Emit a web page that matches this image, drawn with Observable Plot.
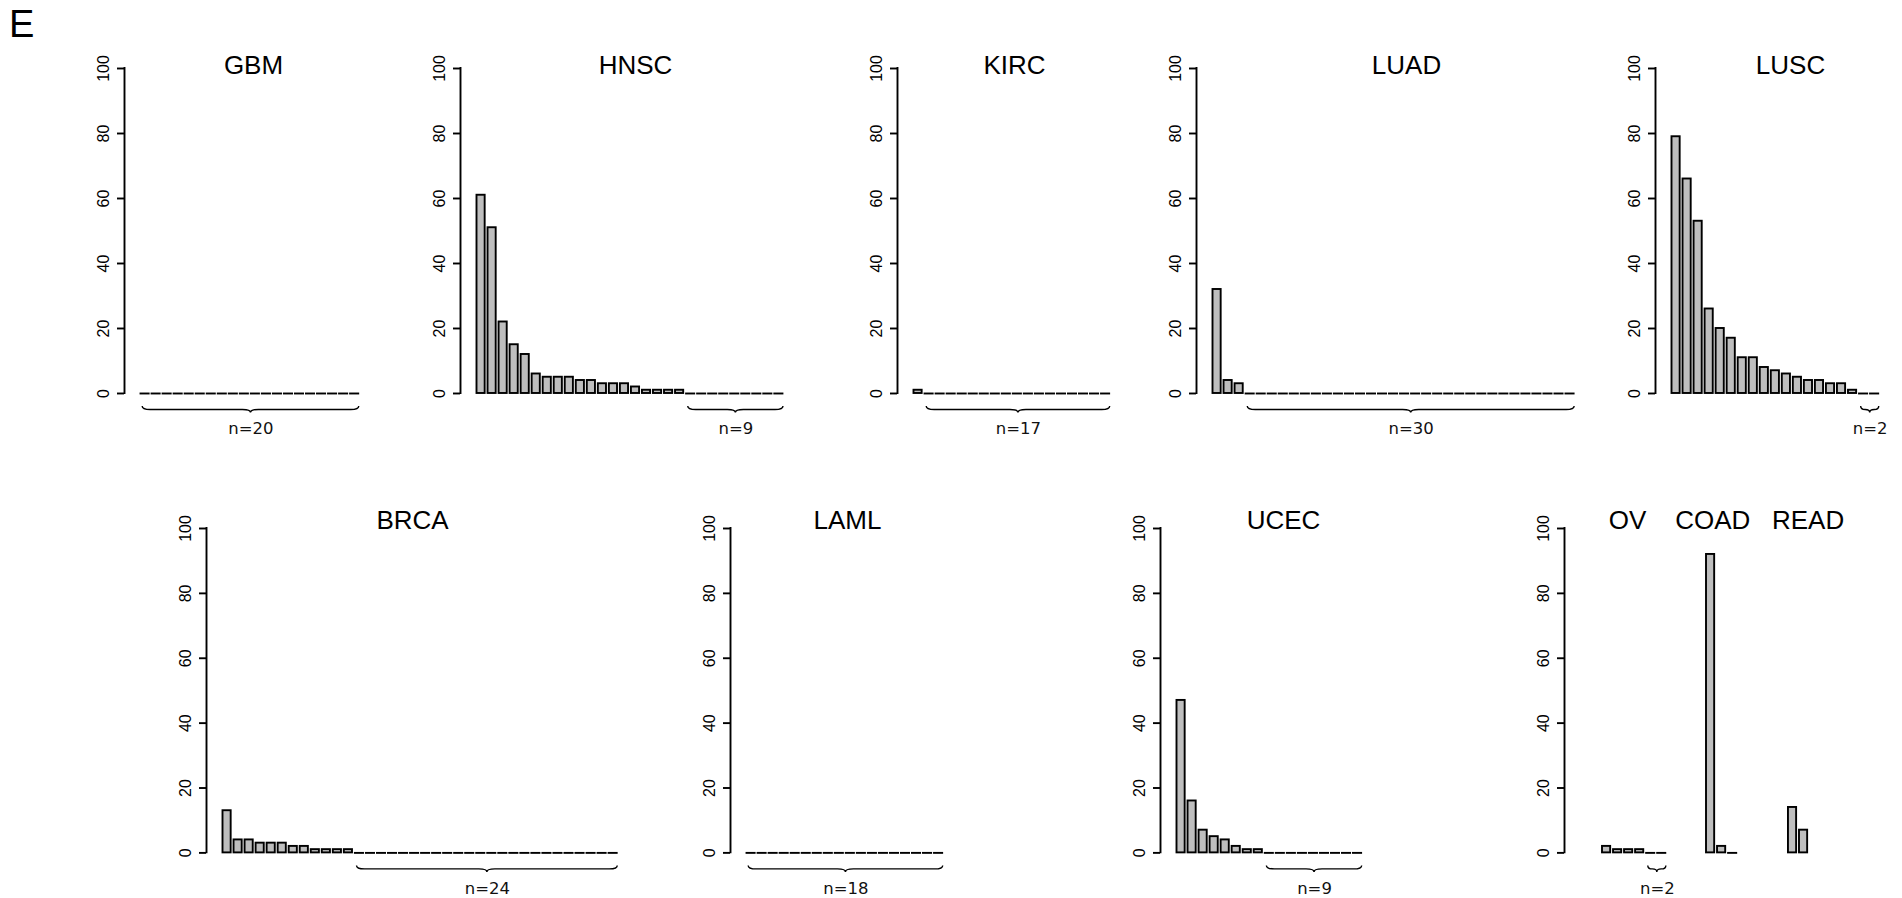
<!DOCTYPE html>
<html><head><meta charset="utf-8">
<script src="https://cdn.jsdelivr.net/npm/d3@7"></script>
<script src="https://cdn.jsdelivr.net/npm/@observablehq/plot@0.6"></script>
<style>
html,body{margin:0;padding:0;background:#fff;}
#fig{position:relative;width:1902px;height:898px;overflow:hidden;background:#fff;font-family:"Liberation Sans",Arial,sans-serif;}
#fig svg{position:absolute;overflow:visible;}
#panelE{position:absolute;left:9px;top:5px;font-size:38px;line-height:1;color:#000;}
</style></head><body>
<div id="fig"><div id="panelE">E</div></div>
<script>
// ---- data ----
const yTicks = [0, 20, 40, 60, 80, 100];
const GBM  = [0,0,0,0,0,0,0,0,0,0,0,0,0,0,0,0,0,0,0,0];
const HNSC = [61,51,22,15,12,6,5,5,5,4,4,3,3,3,2,1,1,1,1,0,0,0,0,0,0,0,0,0];
const KIRC = [1,0,0,0,0,0,0,0,0,0,0,0,0,0,0,0,0,0];
const LUAD = [32,4,3,0,0,0,0,0,0,0,0,0,0,0,0,0,0,0,0,0,0,0,0,0,0,0,0,0,0,0,0,0,0];
const LUSC = [79,66,53,26,20,17,11,11,8,7,6,5,4,4,3,3,1,0,0];
const BRCA = [13,4,4,3,3,3,2,2,1,1,1,1,0,0,0,0,0,0,0,0,0,0,0,0,0,0,0,0,0,0,0,0,0,0,0,0];
const LAML = [0,0,0,0,0,0,0,0,0,0,0,0,0,0,0,0,0,0];
const UCEC = [47,16,7,5,4,2,1,1,0,0,0,0,0,0,0,0,0];
const OV   = [2,1,1,1,0,0];
const COAD = [92,2,0];
const READ = [14,7];
const bracedGroups = ["GBM","HNSC","KIRC","LUAD","LUSC","BRCA","LAML","UCEC","OV"];
const seriesByName = {GBM, HNSC, KIRC, LUAD, LUSC, BRCA, LAML, UCEC, OV, COAD, READ};

// ---- layout ----
const SLOT = 11.03;   // px per bar slot
const BAR = 0.74;     // bar width in slots
const LW = 1.9;       // line width
const rows = [
  {y100: 68.3, y0: 393.3, titleGap: 5},
  {y100: 528.3, y0: 852.7, titleGap: 10}
];
const layout = [
  {groups: ["GBM"],  row: 0, axisX: 124,  titleX: 253,  lead: 16.5},
  {groups: ["HNSC"], row: 0, axisX: 460,  titleX: 635,  lead: 16.5},
  {groups: ["KIRC"], row: 0, axisX: 897,  titleX: 1014, lead: 16.5},
  {groups: ["LUAD"], row: 0, axisX: 1196, titleX: 1406, lead: 16.5},
  {groups: ["LUSC"], row: 0, axisX: 1655, titleX: 1790, lead: 16.5},
  {groups: ["BRCA"], row: 1, axisX: 206,  titleX: 412,  lead: 16.5},
  {groups: ["LAML"], row: 1, axisX: 730,  titleX: 847,  lead: 16.5},
  {groups: ["UCEC"], row: 1, axisX: 1160, titleX: 1283, lead: 16.5},
  {groups: ["OV","COAD","READ"], starts: [0, 9.43, 16.86], row: 1, axisX: 1564, titleX: 1726, lead: 38,
   title: "OV\u00a0\u00a0\u00a0\u00a0COAD\u00a0\u00a0\u00a0READ"}
];

function braceMark(braces) {
  return (index, scales) => {
    const {x, y} = scales;
    const g = d3.create("svg:g").attr("fill", "none").attr("stroke", "black").attr("stroke-width", 1.4);
    for (const b of braces) {
      const a = x(b.x1), c = x(b.x2), m = (a + c) / 2, yb = y(0);
      const yt = yb + 13, yl = yb + 16.5, yp = yb + 19.5;
      const r = Math.min(8, (c - a) / 4);
      g.append("path").attr("d",
        `M${a},${yt} Q${a},${yl} ${a + r},${yl} L${m - r},${yl} Q${m},${yl} ${m},${yp} ` +
        `Q${m},${yl} ${m + r},${yl} L${c - r},${yl} Q${c},${yl} ${c},${yt}`);
    }
    return g.node();
  };
}

const fig = document.getElementById("fig");
const mL = 40, mR = 12, mT = 50, mB = 48;

for (const p of layout) {
  const row = rows[p.row];
  const innerH = row.y0 - row.y100;
  const bars = [];
  const braces = [];
  p.groups.forEach((g, gi) => {
    const start = p.starts ? p.starts[gi] : 0;
    const vals = seriesByName[g];
    vals.forEach((v, i) => bars.push({group: g, i: start + i, v}));
    if (bracedGroups.includes(g)) {
      let k = vals.length;
      while (k > 0 && vals[k - 1] === 0) k--;
      braces.push({x1: start + k + 0.15, x2: start + vals.length - 1 + BAR + 0.05, n: vals.length - k});
    }
  });
  const maxSlot = d3.max(bars, d => d.i) + 1;
  const innerW = p.lead + maxSlot * SLOT + 8;
  const x0 = -p.lead / SLOT, x1 = (innerW - p.lead) / SLOT;
  const title = p.title || p.groups[0];

  const chart = Plot.plot({
    width: mL + innerW + mR,
    height: mT + innerH + mB,
    marginLeft: mL, marginRight: mR, marginTop: mT, marginBottom: mB,
    x: {type: "linear", domain: [x0, x1], axis: null},
    y: {type: "linear", domain: [0, 100], axis: null},
    style: {fontFamily: "'Liberation Sans', Arial, sans-serif", fontSize: "16px", background: "transparent", overflow: "visible", color: "black"},
    marks: [
      Plot.ruleX([x0], {y1: 0, y2: 100, stroke: "black", strokeWidth: LW, strokeLinecap: "square"}),
      Plot.ruleY(yTicks, {y: d => d, x1: x0 - 7 / SLOT, x2: x0, stroke: "black", strokeWidth: LW}),
      Plot.text(yTicks, {x: x0, y: d => d, text: d => String(d), rotate: -90, dx: -21, fontSize: 16, fontFamily: "'Liberation Sans', Arial, sans-serif", textAnchor: "middle", fill: "black"}),
      Plot.rect(bars.filter(d => d.v > 0), {x1: d => d.i, x2: d => d.i + BAR, y1: 0, y2: d => d.v, fill: "#bebebe", stroke: "black", strokeWidth: LW}),
      Plot.ruleY(bars.filter(d => d.v === 0), {y: 0, x1: d => d.i, x2: d => d.i + BAR, stroke: "black", strokeWidth: LW, strokeLinecap: "square"}),
      Plot.text([title], {frameAnchor: "top-left", dx: p.titleX - p.axisX, dy: -(row.titleGap + 0.32 * 26), fontSize: 26, fontFamily: "'Liberation Sans', Arial, sans-serif", textAnchor: "middle", fill: "black"}),
      braceMark(braces),
      Plot.text(braces, {x: d => (d.x1 + d.x2) / 2, y: 0, dy: 40.8 - 0.32 * 16.5, text: d => "n=" + d.n, fontSize: 16.5, fontFamily: "'DejaVu Sans', sans-serif", fill: "#111"})
    ]
  });
  chart.style.left = (p.axisX - mL) + "px";
  chart.style.top = (row.y100 - mT) + "px";
  fig.appendChild(chart);
}
</script>
</body></html>
